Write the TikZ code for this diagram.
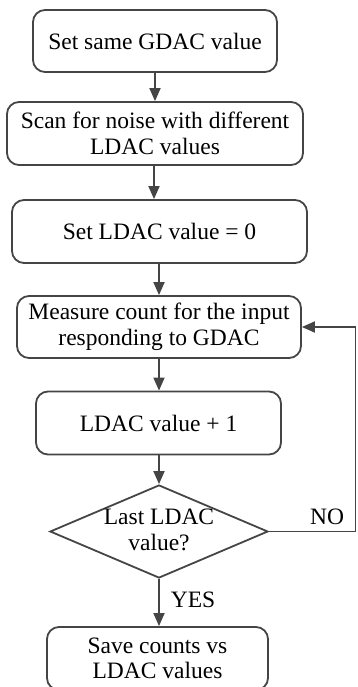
\documentclass[tikz,border=0pt]{standalone}
\usepackage{fontspec}
\setmainfont{Liberation Serif}
\usetikzlibrary{shapes.geometric,arrows.meta}
\begin{document}
\begin{tikzpicture}[x=1pt,y=-1pt,
  line width=1.8pt,
  box/.style={draw=flowline,rounded corners=12pt,align=center,inner sep=0pt,
    font=\fontsize{23.5}{25.5}\selectfont},
  decision/.style={draw=flowline,diamond,inner sep=0pt},
  lbl/.style={font=\fontsize{23.5}{25.5}\selectfont,inner sep=0pt,align=center},
  flow/.style={draw=flowline,-{Triangle[length=13pt,width=11pt]}}]
\definecolor{flowline}{HTML}{454545}
\clip (0,0) rectangle (357,687);

\node[box,minimum width=244pt,minimum height=62pt] (b1) at (155,41) {Set same GDAC value};
\node[box,minimum width=296pt,minimum height=63pt] (b2) at (155,133.5) {Scan for noise with different\\LDAC values};
\node[box,minimum width=295pt,minimum height=63pt] (b3) at (159.5,231.5) {Set LDAC value = 0};
\node[box,minimum width=284pt,minimum height=62pt] (b4) at (159,327) {Measure count for the input\\responding to GDAC};
\node[box,minimum width=245pt,minimum height=63pt] (b5) at (158.5,423) {LDAC value + 1};
\node[decision,minimum width=218pt,minimum height=93pt] (d) at (159,531.5) {};
\node[lbl] (dt) at (159,530) {Last LDAC\\value?};
\node[box,minimum width=221pt,minimum height=63pt] (b6) at (157.5,658.5) {Save counts vs\\LDAC values};

\node[lbl] (no) at (327,517) {NO};
\node[lbl] (yes) at (193,600) {YES};
\coordinate (r) at (355.5,0);

\draw[flow] (b1.south) -- (b1.south |- b2.north);
\draw[flow] ([xshift=-1pt]b2.south) -- ([xshift=-1pt]b2.south |- b3.north);
\draw[flow] (b4.north |- b3.south) -- (b4.north);
\draw[flow] (b4.south) -- (b4.south |- b5.north);
\draw[flow] (d.north |- b5.south) -- (d.north);
\draw[flow] (d.south) -- (d.south |- b6.north);
\draw[flow] (d.east) -- (d.east -| r) |- (b4.east);
\end{tikzpicture}
\end{document}
